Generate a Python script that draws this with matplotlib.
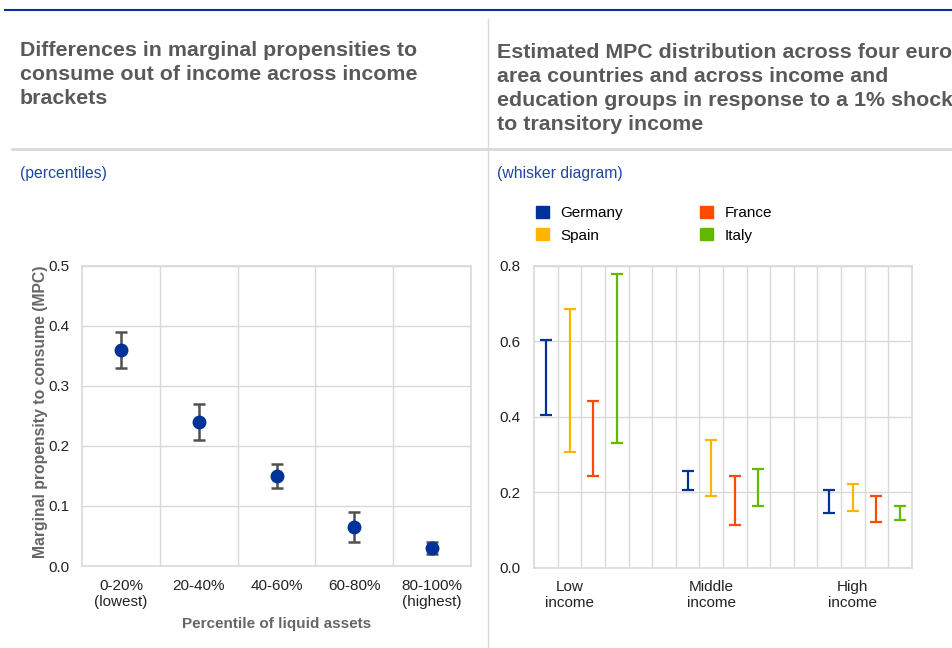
import matplotlib
matplotlib.use("Agg")
import matplotlib.pyplot as plt
import matplotlib.patches as patches
from matplotlib.lines import Line2D
import numpy as np

plt.rcParams["font.family"] = ["Liberation Sans", "DejaVu Sans"]

# ---------------------------------------------------------------------------
# Left panel: MPC by percentile of liquid assets
# ---------------------------------------------------------------------------
brackets = ["0-20%\n(lowest)", "20-40%", "40-60%", "60-80%", "80-100%\n(highest)"]
mpc_point = [0.36, 0.24, 0.15, 0.065, 0.03]
mpc_low = [0.33, 0.21, 0.13, 0.04, 0.02]
mpc_high = [0.39, 0.27, 0.17, 0.09, 0.04]

# ---------------------------------------------------------------------------
# Right panel: MPC ranges by country and income group
# ---------------------------------------------------------------------------
income_groups = ["Low\nincome", "Middle\nincome", "High\nincome"]
countries = ["Germany", "Spain", "France", "Italy"]
range_low = {
    "Germany": [0.405, 0.205, 0.146],
    "Spain":   [0.306, 0.191, 0.149],
    "France":  [0.242, 0.114, 0.121],
    "Italy":   [0.330, 0.163, 0.126],
}
range_high = {
    "Germany": [0.603, 0.256, 0.205],
    "Spain":   [0.685, 0.338, 0.222],
    "France":  [0.441, 0.242, 0.189],
    "Italy":   [0.778, 0.261, 0.164],
}

COUNTRY_COLORS = {
    "Germany": "#003299",
    "Spain":   "#ffb400",
    "France":  "#ff4b00",
    "Italy":   "#65b800",
}
GRID = "#d9d9d9"
TITLE_GREY = "#595959"
SUB_BLUE = "#1f47a0"
TICK_TXT = "#222222"
FS = 11

fig = plt.figure(figsize=(9.52, 6.48), dpi=100)

# header rules
fig.add_artist(Line2D([5 / 952, 1], [1 - 10 / 648] * 2, color="#003299", lw=1.5))
fig.add_artist(Line2D([12 / 952, 1], [1 - 149 / 648] * 2, color="#d9d9d9", lw=2))
fig.add_artist(Line2D([488 / 952] * 2, [0, 1 - 19 / 648], color="#d9d9d9", lw=1))

# multi-line titles are anchored on the baseline of their last line
title_kw = dict(fontsize=15.4, fontweight="bold", color=TITLE_GREY,
                va="baseline", ha="left", linespacing=1.34)
fig.text(20 / 952, 1 - 104 / 648,
         "Differences in marginal propensities to\n"
         "consume out of income across income\nbrackets", **title_kw)
fig.text(497 / 952, 1 - 130 / 648,
         "Estimated MPC distribution across four euro\n"
         "area countries and across income and\n"
         "education groups in response to a 1% shock\n"
         "to transitory income", **title_kw)

fig.text(20 / 952, 1 - 178 / 648, "(percentiles)", fontsize=11.3,
         color=SUB_BLUE, va="baseline")
fig.text(497 / 952, 1 - 178 / 648, "(whisker diagram)", fontsize=11.3,
         color=SUB_BLUE, va="baseline")


def style_axes(ax):
    for sp in ax.spines.values():
        sp.set_color(GRID)
        sp.set_linewidth(1.2)
    ax.tick_params(axis="both", length=0, labelsize=FS, labelcolor=TICK_TXT)
    ax.grid(True, which="minor", axis="x", color=GRID, lw=1)
    ax.grid(True, which="major", axis="y", color=GRID, lw=1)
    ax.set_axisbelow(True)


# ---- left chart ----
ax1 = fig.add_axes([82 / 952, 1 - 566 / 648, 389 / 952, 300.5 / 648])
x1 = np.arange(len(brackets))
pt = np.array(mpc_point)
yerr = [pt - np.array(mpc_low), np.array(mpc_high) - pt]
ax1.errorbar(x1, pt, yerr=yerr, fmt="none", ecolor="#505050",
             elinewidth=1.8, capsize=4.2, capthick=1.8, zorder=3)
ax1.plot(x1, pt, "o", color="#003299", ms=9, zorder=4)
ax1.set_xlim(-0.5, len(brackets) - 0.5)
ax1.set_ylim(0, 0.5)
ax1.set_yticks(np.arange(0, 0.51, 0.1))
ax1.set_yticklabels([f"{v:.1f}" for v in np.arange(0, 0.51, 0.1)])
ax1.set_xticks(x1)
ax1.set_xticklabels(brackets)
ax1.set_xticks(np.arange(0.5, len(brackets) - 0.5, 1), minor=True)
ax1.tick_params(axis="x", which="minor", length=0)
ax1.tick_params(axis="x", pad=9)
ax1.tick_params(axis="y", pad=9)
style_axes(ax1)
ax1.set_xlabel("Percentile of liquid assets", fontsize=FS,
               fontweight="bold", color="#666666", labelpad=6)
ax1.set_ylabel("Marginal propensity to consume (MPC)", fontsize=11.3,
               fontweight="bold", color="#666666")
ax1.yaxis.set_label_coords(-0.087, 0.514)

# ---- right chart ----
ax2 = fig.add_axes([534.3 / 952, 1 - 567.7 / 648, 377.4 / 952, 302 / 648])
slot = 6  # four countries plus two empty slots per income group
for ci, c in enumerate(countries):
    xs = np.arange(len(income_groups)) * slot + ci
    lo = np.array(range_low[c])
    hi = np.array(range_high[c])
    mid = (lo + hi) / 2
    ax2.errorbar(xs, mid, yerr=(hi - lo) / 2, fmt="none",
                 ecolor=COUNTRY_COLORS[c], elinewidth=1.6,
                 capsize=4.5, capthick=1.6, zorder=3)
n_slots = slot * (len(income_groups) - 1) + len(countries)
ax2.set_xlim(-0.5, n_slots - 0.5)
ax2.set_ylim(0, 0.8)
ax2.set_yticks(np.arange(0, 0.81, 0.2))
ax2.set_yticklabels([f"{v:.1f}" for v in np.arange(0, 0.81, 0.2)])
ax2.set_xticks(np.arange(len(income_groups)) * slot + 1)
ax2.set_xticklabels(income_groups)
ax2.set_xticks(np.arange(0.5, n_slots - 0.5, 1), minor=True)
ax2.tick_params(axis="x", which="minor", length=0)
ax2.tick_params(axis="x", pad=9)
ax2.tick_params(axis="y", pad=10)
style_axes(ax2)

handles = [patches.Patch(color=COUNTRY_COLORS[c], label=c) for c in countries]
fig.legend(handles=handles, ncol=2, loc="upper left",
           bbox_to_anchor=(530 / 952, 1 - 200 / 648), frameon=False,
           fontsize=FS, handlelength=0.85, handleheight=0.85,
           handletextpad=0.75, columnspacing=5.05, labelspacing=0.5,
           borderaxespad=0)

fig.savefig("out.png", dpi=100)
